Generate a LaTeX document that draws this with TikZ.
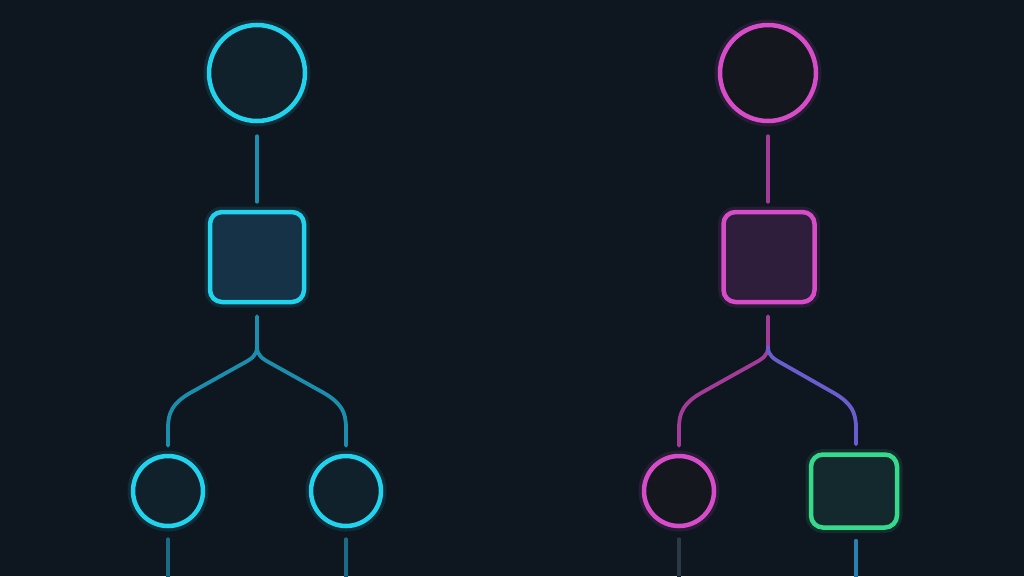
\documentclass[tikz,border=0pt]{standalone}
\usetikzlibrary{calc}
\definecolor{bg}{HTML}{0E161F}
\definecolor{cyanA}{HTML}{22D3EE}
\definecolor{cyanL}{HTML}{1B8EAD}
\definecolor{cyanD}{HTML}{1B6A86}
\definecolor{magA}{HTML}{D64CC9}
\definecolor{magL}{HTML}{A23C98}
\definecolor{violL}{HTML}{6A5ECF}
\definecolor{grnA}{HTML}{36DA8C}
\definecolor{grayL}{HTML}{2A3A48}
\definecolor{blueL}{HTML}{2A80B2}
\definecolor{cfill}{HTML}{10212C}
\definecolor{sqcfill}{HTML}{163247}
\definecolor{mfill}{HTML}{15171F}
\definecolor{sqmfill}{HTML}{2E1E3B}
\definecolor{gfill}{HTML}{14292E}
\begin{document}
\begin{tikzpicture}[x=1pt,y=-1pt,
  ring/.style={circle, inner sep=0pt, draw=#1, line width=4.5pt,
    preaction={draw=#1, line width=11pt, draw opacity=0.12}},
  box/.style={rectangle, rounded corners=12pt, inner sep=0pt, draw=#1, line width=4.5pt,
    preaction={draw=#1, line width=11pt, draw opacity=0.12}},
  link/.style={line width=3.8pt, line cap=round, draw=#1}]
\fill[bg] (0,0) rectangle (1024,576);
\useasboundingbox (0,0) rectangle (1024,576);

% ---- left tree (cyan) ----
\node[ring=cyanA, fill=cfill, minimum size=96pt] (c1) at (257,73) {};
\node[box=cyanA, fill=sqcfill, minimum width=94pt, minimum height=90pt] (s1) at (257,257) {};
\node[ring=cyanA, fill=cfill, minimum size=70pt] (l1) at (168,491) {};
\node[ring=cyanA, fill=cfill, minimum size=70pt] (r1) at (346,491) {};
\coordinate (j1) at (257,347);
\coordinate (lb1) at (168,584);
\coordinate (rb1) at (346,584);

\draw[link=cyanL, shorten <=13pt, shorten >=8pt] (c1) -- (s1);
\draw[link=cyanL, shorten <=12pt, shorten >=8pt] (s1.south) -- (j1)
  .. controls (257,356) and (251,359) .. (242,364) -- (190,393)
  .. controls (173,403) and (168,412) .. (168,428) -- (l1.north);
\draw[link=cyanL, shorten >=8pt] (j1)
  .. controls (257,356) and (263,359) .. (272,364) -- (324,393)
  .. controls (341,403) and (346,412) .. (346,428) -- (r1.north);
\draw[link=cyanD, shorten <=11pt] (l1) -- (lb1);
\draw[link=cyanD, shorten <=11pt] (r1) -- (rb1);

% ---- right tree (magenta) ----
\node[ring=magA, fill=mfill, minimum size=96pt] (c2) at (768,73) {};
\node[box=magA, fill=sqmfill, minimum width=91pt, minimum height=90pt] (s2) at (769,257) {};
\node[ring=magA, fill=mfill, minimum size=70pt] (l2) at (679,491) {};
\node[box=grnA, fill=gfill, minimum width=86pt, minimum height=73pt] (r2) at (854,491) {};
\coordinate (j2) at (768,347);
\coordinate (lb2) at (679,584);
\coordinate (rb2) at (856,584);

\draw[link=magL, shorten <=13pt, shorten >=8pt] (c2) -- (c2 |- s2.north);
\draw[link=magL, shorten <=12pt, shorten >=8pt] (s2.south -| j2) -- (j2)
  .. controls (768,356) and (762,359) .. (753,364) -- (701,393)
  .. controls (684,403) and (679,412) .. (679,428) -- (l2.north);
\draw[link=violL, shorten >=8pt] (j2)
  .. controls (768,356) and (774,359) .. (783,364) -- (834,393)
  .. controls (851,403) and (856,412) .. (856,428) -- (r2.north -| rb2);
\draw[link=grayL, shorten <=11pt] (l2) -- (lb2);
\draw[link=blueL, shorten <=11pt] (r2.south -| rb2) -- (rb2);
\end{tikzpicture}
\end{document}
